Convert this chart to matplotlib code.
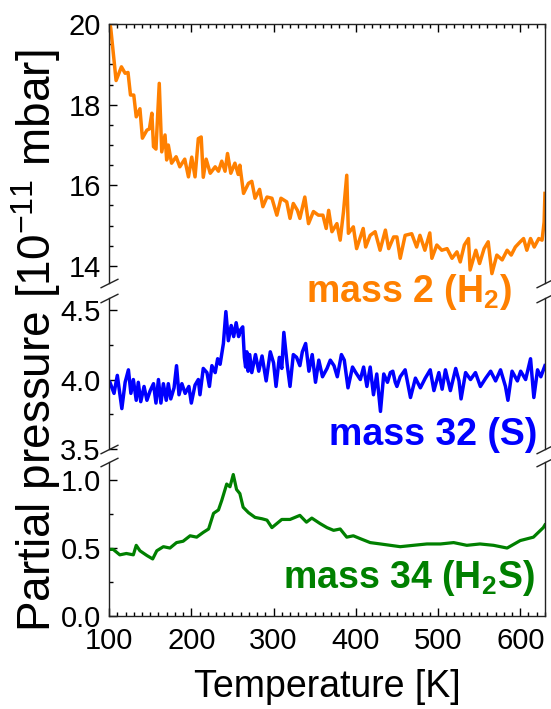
import matplotlib
matplotlib.use('Agg')
import matplotlib.pyplot as plt
from matplotlib.ticker import MultipleLocator, FormatStrFormatter

plt.rcParams['font.family'] = ['Liberation Sans', 'DejaVu Sans']
plt.rcParams['mathtext.fontset'] = 'custom'
plt.rcParams['mathtext.rm'] = 'Liberation Sans'
plt.rcParams['mathtext.bf'] = 'Liberation Sans:bold'
plt.rcParams['axes.unicode_minus'] = False

# mass 2 (H2)
temp_h2 = [100, 102, 108.5, 115, 119.5, 123, 126, 130, 133, 137.5, 140.5, 146, 149, 152,
           154, 157, 161, 164, 168, 170, 172, 176, 181.5, 186, 192, 196.5, 200.5, 204.5,
           208.5, 212, 214.5, 218, 223, 229, 233, 237, 241, 244, 248, 253, 257, 259,
           263.5, 269.5, 273.5, 277.5, 283, 287, 292, 298, 304, 309, 316, 320, 324, 329,
           332, 338, 342.5, 348.5, 354.5, 360, 364, 367, 371, 377, 381, 385, 389, 391,
           397, 401, 409, 412, 417.5, 423.5, 429.5, 436, 440, 446, 450, 454, 460, 468,
           474, 478, 484, 490, 492.5, 498.5, 504.5, 511, 517, 523, 527, 532, 537, 539,
           546, 550.5, 556, 561, 565.5, 571.5, 578, 584, 589, 594, 600, 604, 608, 612.5,
           617, 622.5, 626.5, 629, 630]
p_h2 = [20.1, 19.9, 18.6, 18.94, 18.78, 18.8, 18.24, 18.24, 17.7, 17.9, 17.17, 17.37, 17.4, 17.79,
        16.96, 16.9, 18.53, 16.83, 17.25, 16.63, 17.0, 16.55, 16.71, 16.46, 16.65, 16.21, 16.7, 16.21,
        17.16, 17.2, 16.2, 16.65, 16.3, 16.46, 16.35, 16.6, 16.35, 16.79, 16.3, 16.55, 16.27, 16.5,
        15.8, 16.05, 16.1, 15.68, 15.9, 15.47, 15.71, 15.68, 15.26, 15.68, 15.59, 15.18, 15.55, 15.38,
        15.18, 15.71, 15.05, 15.35, 15.26, 15.26, 14.93, 15.38, 14.85, 15.05, 14.64, 15.34, 16.25, 14.81,
        14.97, 14.43, 14.93, 14.47, 14.76, 14.85, 14.39, 14.89, 14.43, 14.72, 14.72, 14.19, 14.76, 14.8,
        14.47, 14.76, 14.39, 14.82, 14.19, 14.52, 14.39, 14.43, 14.19, 14.35, 14.1, 14.52, 14.68, 13.9,
        14.39, 14.06, 14.43, 14.6, 13.81, 14.27, 14.15, 14.39, 14.27, 14.47, 14.6, 14.68, 14.39, 14.68,
        14.47, 14.68, 14.64, 15.09, 15.8]

# mass 32 (S)
temp_s = [101, 106, 110, 115.5, 119.5, 123.5, 126.5, 129.5, 133, 135.5, 138.5, 142.5, 146, 150,
          154, 157, 160, 163, 166, 169.5, 172, 175, 179, 182, 185, 188.5, 192.5, 197, 200,
          204.5, 208.5, 210.5, 214.5, 219, 222, 225, 229, 232, 235, 239, 242, 245, 248.5,
          251.5, 254.5, 257.5, 260, 262.5, 264.5, 266, 267.5, 269, 271, 273.5, 278, 282, 286,
          291, 296, 300, 303, 307, 310, 312.5, 316.5, 320, 324, 328, 332, 335, 339, 343, 347,
          351, 355, 359.5, 365, 369, 373.5, 377.5, 382.5, 386, 390.5, 396, 400, 405.5, 409.5,
          413.5, 417.5, 421.5, 425.5, 430, 434, 438.5, 442, 445, 448, 450, 454, 460, 466.5,
          472.5, 478.5, 484.5, 490.5, 495, 501, 505, 509, 515, 521.5, 525.5, 528, 533.5, 539.5,
          545.5, 551.5, 558, 564, 570, 576, 582, 585, 590, 596.5, 600.5, 606.5, 612.5, 616.5,
          621, 625, 630]
p_s = [3.98, 3.9, 4.03, 3.79, 3.98, 4.07, 3.9, 4.0, 3.85, 3.98, 3.84, 3.95, 3.85, 3.92,
       3.97, 3.83, 4.0, 3.83, 3.97, 3.85, 3.97, 3.86, 3.94, 4.1, 3.89, 3.97, 3.9, 3.95, 3.83,
       3.96, 4.0, 3.89, 4.08, 4.05, 3.95, 4.1, 4.05, 4.15, 4.11, 4.26, 4.49, 4.28, 4.39,
       4.31, 4.41, 4.31, 4.36, 4.38, 4.16, 4.09, 4.2, 4.06, 4.18, 4.05, 4.18, 4.06, 4.17,
       3.99, 4.2, 4.12, 3.95, 4.16, 4.08, 4.34, 4.11, 3.95, 4.18, 4.16, 4.1, 4.2, 4.26, 4.06, 4.18,
       3.98, 4.14, 4.02, 4.08, 4.14, 4.1, 4.02, 4.18, 4.14, 3.94, 4.09, 4.05, 4.0, 4.09,
       3.95, 4.09, 3.89, 4.04, 3.77, 4.04, 3.98, 4.05, 4.06, 3.98, 3.95, 4.02, 4.07, 3.87,
       4.01, 3.94, 4.01, 4.07, 3.92, 4.05, 3.93, 4.07, 3.92, 4.08, 3.99, 3.86, 4.05, 4.0,
       4.05, 3.95, 4.01, 4.06, 3.99, 4.07, 3.95, 3.85, 4.06, 3.99, 4.06, 4.0, 4.15, 3.87,
       4.07, 4.02, 4.1]

# mass 34 (H2S)
temp_h2s = [101, 105, 113, 121, 129.5, 133, 137.5, 146, 153, 158, 166, 174, 182, 190, 198.5,
            206.5, 214.5, 221, 227, 233, 237, 243, 247, 251, 255, 259, 263, 269.5, 277.5,
            286, 292, 298, 306, 310, 320, 332, 340, 346.5, 356.5, 365, 373, 381, 389, 397,
            405, 417.5, 430, 442, 454, 470, 486.5, 503, 519, 535, 551, 567.5, 584, 600,
            616, 628, 630]
p_h2s = [0.49, 0.49, 0.45, 0.46, 0.45, 0.52, 0.48, 0.445, 0.42, 0.48, 0.51, 0.5, 0.54, 0.55, 0.59,
         0.58, 0.615, 0.64, 0.755, 0.78, 0.85, 0.97, 0.95, 1.04, 0.93, 0.9, 0.8, 0.76, 0.725,
         0.715, 0.705, 0.65, 0.69, 0.71, 0.71, 0.74, 0.69, 0.72, 0.68, 0.65, 0.63, 0.64, 0.58, 0.59,
         0.57, 0.54, 0.53, 0.52, 0.51, 0.52, 0.53, 0.53, 0.54, 0.52, 0.53, 0.52, 0.5, 0.555,
         0.58, 0.65, 0.67]

orange = '#ff8000'
blue = '#0000ff'
green = '#008000'

fig = plt.figure(figsize=(5.51, 7.09), dpi=100)
ax1 = fig.add_axes([0.198, 0.601, 0.791, 0.365])
ax2 = fig.add_axes([0.198, 0.367, 0.791, 0.213])
ax3 = fig.add_axes([0.198, 0.131, 0.791, 0.217])

ax1.plot(temp_h2, p_h2, color=orange, lw=2.5)
ax2.plot(temp_s, p_s, color=blue, lw=2.5)
ax3.plot(temp_h2s, p_h2s, color=green, lw=2.3)

ax1.set_ylim(13.58, 20)
ax2.set_ylim(3.5, 4.59)
ax3.set_ylim(0, 1.13)

ax1.yaxis.set_major_locator(MultipleLocator(2))
ax1.yaxis.set_minor_locator(MultipleLocator(0.5))
for ax in (ax2, ax3):
    ax.yaxis.set_major_locator(MultipleLocator(0.5))
    ax.yaxis.set_minor_locator(MultipleLocator(0.25))
    ax.yaxis.set_major_formatter(FormatStrFormatter('%.1f'))

for ax in (ax1, ax2, ax3):
    ax.set_xlim(100, 630)
    ax.xaxis.set_major_locator(MultipleLocator(100))
    ax.xaxis.set_minor_locator(MultipleLocator(10))
    ax.tick_params(which='both', direction='in', right=False, labelsize=21, width=1.0, pad=6)
    ax.tick_params(which='major', length=6)
    ax.tick_params(which='minor', length=3)
    for s in ax.spines.values():
        s.set_linewidth(1.0)
        s.set_color('#222222')

ax1.tick_params(axis='x', which='both', top=True, bottom=False, labelbottom=False)
ax2.tick_params(axis='x', which='both', top=False, bottom=False, labelbottom=False)
ax3.tick_params(axis='x', which='both', top=False, bottom=True, pad=8)

ax1.spines['bottom'].set_visible(False)
ax2.spines['top'].set_visible(False)
ax2.spines['bottom'].set_visible(False)
ax3.spines['top'].set_visible(False)

# break marks
kw = dict(marker=[(-1, -0.5), (1, 0.5)], markersize=13, linestyle='none',
          color='#222222', mec='#222222', mew=1.0, clip_on=False)
ax1.plot([0, 1], [0, 0], transform=ax1.transAxes, **kw)
ax2.plot([0, 1, 0, 1], [1, 1, 0, 0], transform=ax2.transAxes, **kw)
ax3.plot([0, 1], [1, 1], transform=ax3.transAxes, **kw)

ax3.set_xlabel('Temperature [K]', fontsize=27, labelpad=10)
fig.text(0.066, 0.52, 'Partial pressure [10$^{-11}$ mbar]', fontsize=33,
         rotation=90, ha='center', va='center')

fig.text(0.929, 0.588, r'mass 2 (H$_\mathbf{2}$)', color=orange, fontsize=27,
         fontweight='bold', ha='right', va='center')
fig.text(0.976, 0.386, 'mass 32 (S)', color=blue, fontsize=27,
         fontweight='bold', ha='right', va='center')
fig.text(0.971, 0.185, r'mass 34 (H$_\mathbf{2}$S)', color=green, fontsize=27,
         fontweight='bold', ha='right', va='center')

fig.savefig('out.png', dpi=100)
